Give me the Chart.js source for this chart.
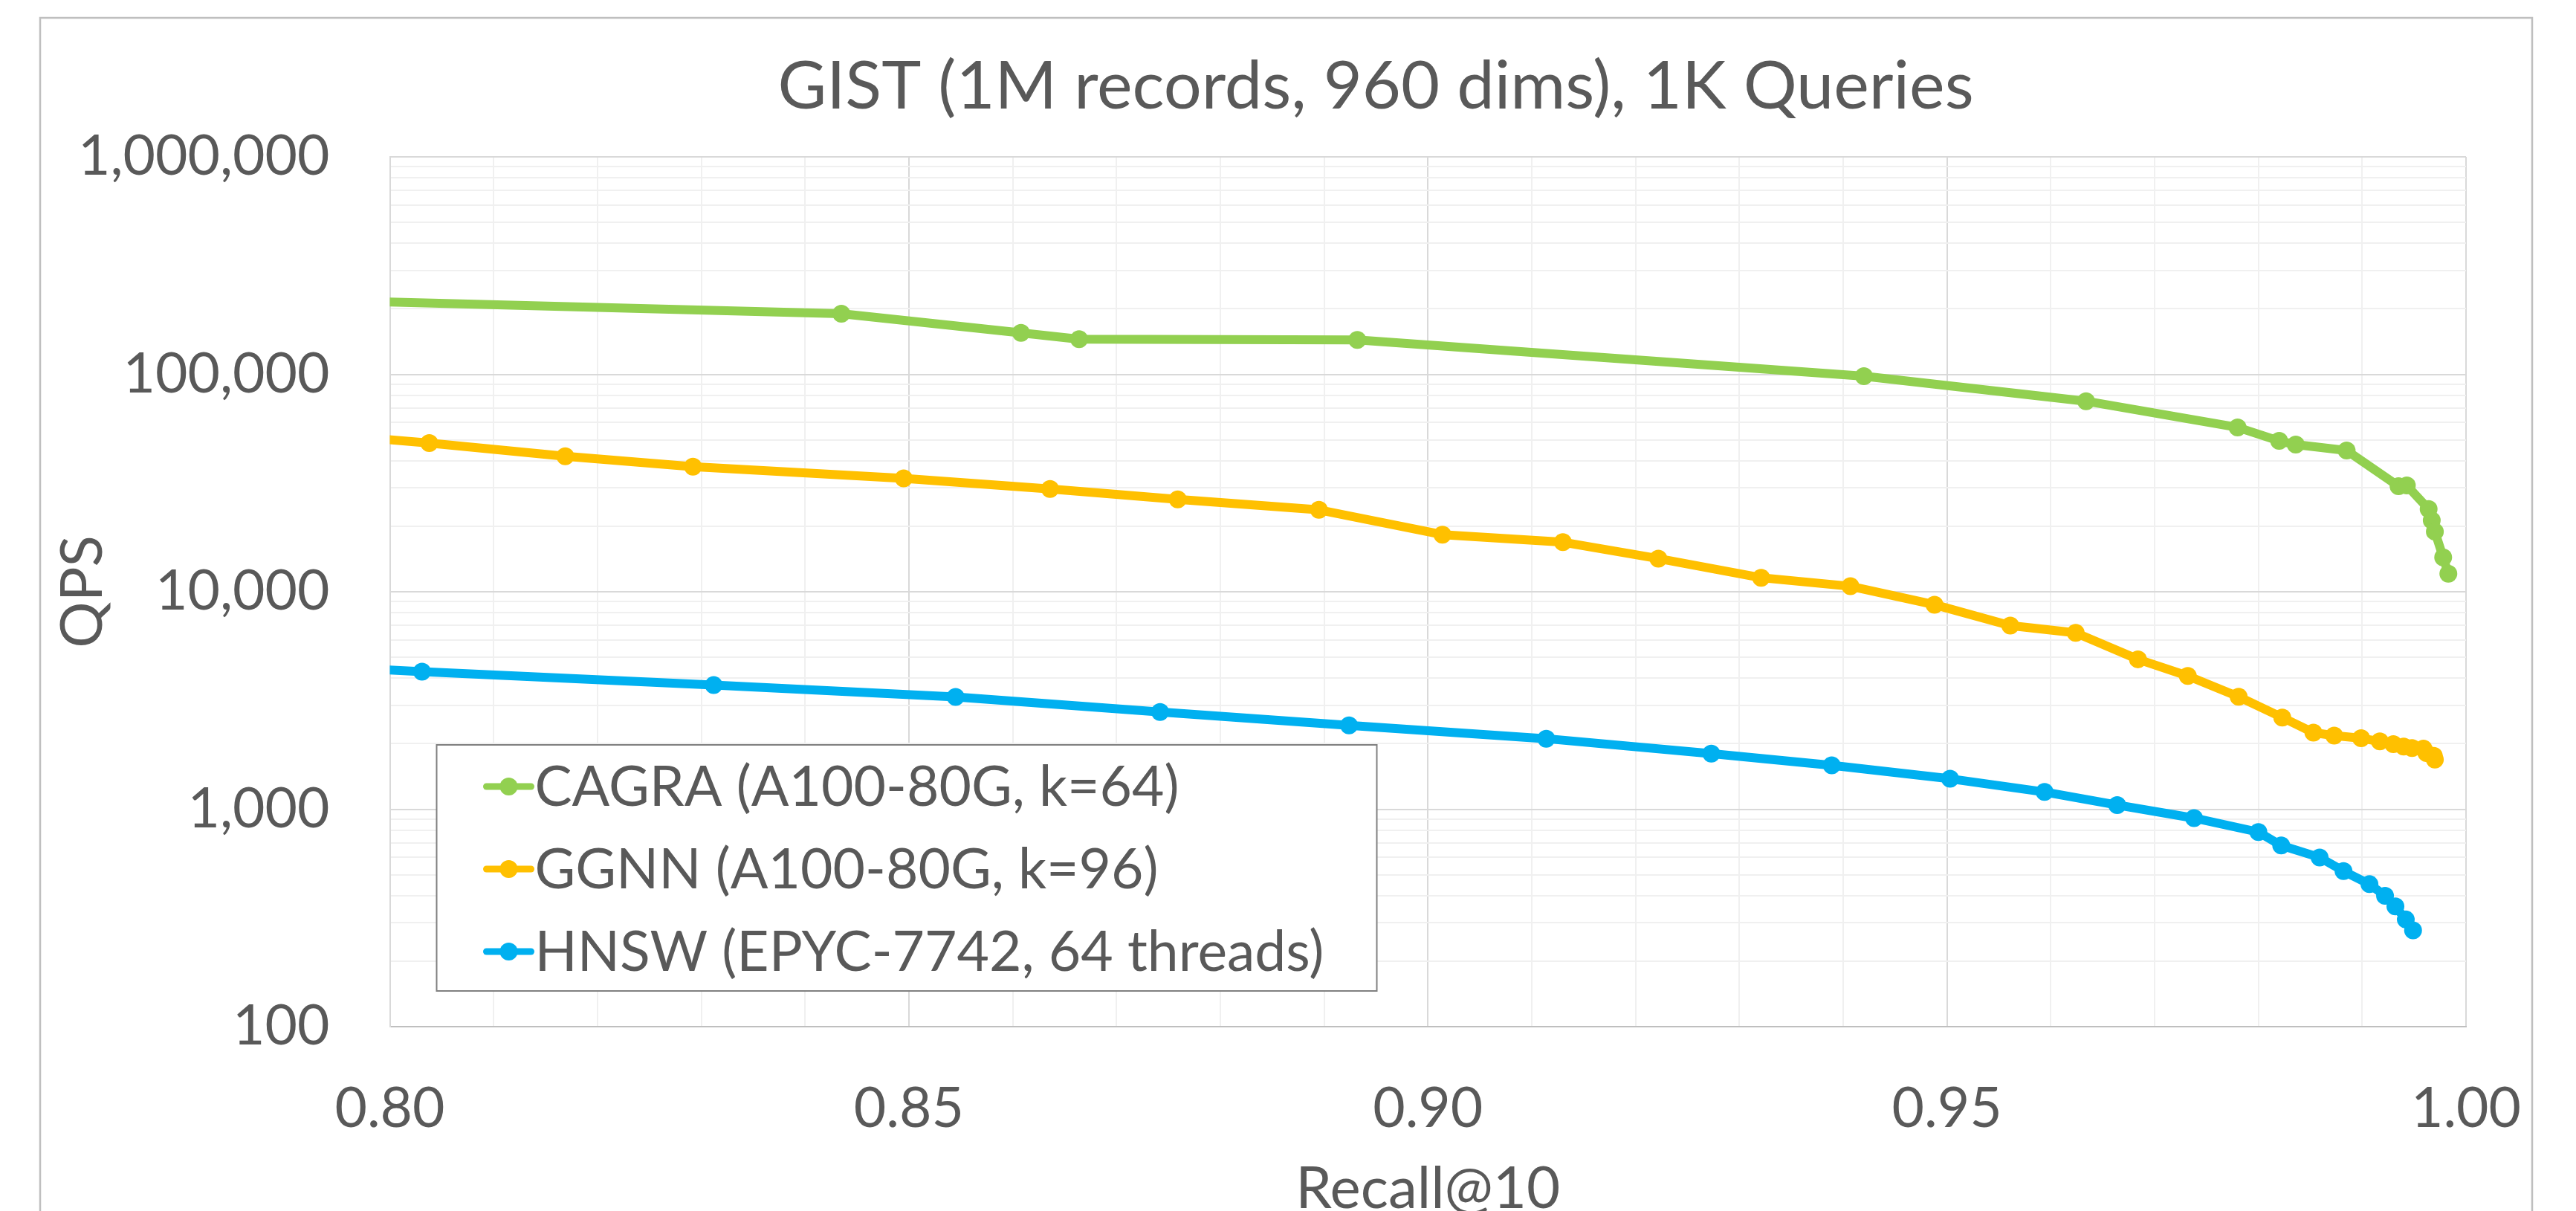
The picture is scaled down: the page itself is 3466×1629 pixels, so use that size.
<!DOCTYPE html>
<html>
<head>
<meta charset="utf-8">
<title>GIST recall vs QPS</title>
<script src="https://cdn.jsdelivr.net/npm/chart.js@4.4.1/dist/chart.umd.min.js"></script>
<style>
  html, body { margin: 0; padding: 0; background: #fff; }
  canvas { display: block; }
</style>
</head>
<body>
<canvas id="chart" width="3466" height="1629"></canvas>
<script>
const chartTitle = 'GIST (1M records, 960 dims), 1K Queries';
const xTitle = 'Recall@10';
const yTitle = 'QPS';

const seriesNames = ['CAGRA (A100-80G, k=64)', 'GGNN (A100-80G, k=96)', 'HNSW (EPYC-7742, 64 threads)'];
const seriesColors = ['#92D050', '#FFC000', '#00B0F0'];

// (first point of each series sits just left of the axis)
const cagraRecall = [0.795, 0.8435, 0.8608, 0.8664, 0.8932, 0.9420, 0.9634, 0.9780, 0.9820, 0.9836, 0.9885, 0.9935, 0.9943, 0.9964, 0.9967, 0.9970, 0.9978, 0.9983];
const cagraQps = [218000, 190000, 155000, 145000, 144000, 98000, 75200, 57000, 49400, 47500, 44600, 30600, 30800, 24000, 21300, 18900, 14400, 12100];

const ggnnRecall = [0.795, 0.8038, 0.8169, 0.8292, 0.8495, 0.8636, 0.8759, 0.8895, 0.9014, 0.9130, 0.9222, 0.9321, 0.9407, 0.9488, 0.9561, 0.9624, 0.9684, 0.9732, 0.9781, 0.9823, 0.9853, 0.9873, 0.9899, 0.9917, 0.9930, 0.9940, 0.9948, 0.9959, 0.9962, 0.9969, 0.9970];
const ggnnQps = [52300, 48300, 42000, 37600, 33200, 29700, 26600, 23800, 18300, 16900, 14200, 11600, 10600, 8720, 6990, 6470, 4890, 4100, 3290, 2640, 2250, 2180, 2120, 2050, 1990, 1940, 1910, 1900, 1810, 1760, 1690];

const hnswRecall = [0.795, 0.8031, 0.8312, 0.8545, 0.8742, 0.8924, 0.9114, 0.9273, 0.9389, 0.9503, 0.9594, 0.9664, 0.9738, 0.9800, 0.9822, 0.9859, 0.9882, 0.9907, 0.9922, 0.9932, 0.9942, 0.9949];
const hnswQps = [4500, 4290, 3720, 3280, 2800, 2430, 2110, 1800, 1590, 1380, 1200, 1045, 910, 785, 681, 600, 519, 452, 400, 357, 311, 277];

const xTicks = [0.80, 0.81, 0.82, 0.83, 0.84, 0.85, 0.86, 0.87, 0.88, 0.89, 0.90, 0.91, 0.92, 0.93, 0.94, 0.95, 0.96, 0.97, 0.98, 0.99, 1.00];
const xTickLabels = ['0.80', '0.85', '0.90', '0.95', '1.00'];
const yDecades = [100, 1000, 10000, 100000];
const yMantissas = [1, 2, 3, 4, 5, 6, 7, 8, 9];
const yTickLabels = ['100', '1,000', '10,000', '100,000', '1,000,000'];

const textColor = '#595959';
const fontFamily = 'Lato, "Open Sans", sans-serif';

const yTicks = [];
yDecades.forEach(d => yMantissas.forEach(m => yTicks.push(d * m)));
yTicks.push(1000000);

const toPoints = (xs, ys) => xs.map((x, i) => ({ x: x, y: ys[i] }));
const seriesData = [
    toPoints(cagraRecall, cagraQps),
    toPoints(ggnnRecall, ggnnQps),
    toPoints(hnswRecall, hnswQps),
];

const isMajorX = v => Math.round(v * 100) % 5 === 0;
const isMajorY = v => Math.abs(Math.log10(v) - Math.round(Math.log10(v))) < 1e-9;

// frame, title and the legend box that sits inside the plot
const excelBits = {
    id: 'excelBits',
    beforeDraw(chart) {
        const ctx = chart.ctx;
        ctx.save();
        ctx.fillStyle = '#ffffff';
        ctx.fillRect(0, 0, chart.width, chart.height);
        ctx.strokeStyle = '#bfbfbf';
        ctx.lineWidth = 2.5;
        ctx.strokeRect(54, 24, 3407 - 54, chart.height + 40);
        ctx.restore();
    },
    afterDraw(chart) {
        const ctx = chart.ctx;
        ctx.save();
        ctx.fillStyle = textColor;
        ctx.font = '90px ' + fontFamily;
        ctx.textAlign = 'center';
        ctx.textBaseline = 'middle';
        ctx.fillText(chartTitle, 1851, 117);

        const area = chart.chartArea;
        const bx = area.left + 63, by = area.top + 791, bw = 1265, bh = 331;
        ctx.fillStyle = '#ffffff';
        ctx.fillRect(bx, by, bw, bh);
        ctx.strokeStyle = '#808080';
        ctx.lineWidth = 2;
        ctx.strokeRect(bx, by, bw, bh);

        ctx.font = '75px ' + fontFamily;
        ctx.textAlign = 'left';
        ctx.textBaseline = 'alphabetic';
        chart.data.datasets.forEach((ds, i) => {
            const cy = by + 56 + i * 111;
            ctx.strokeStyle = ds.borderColor;
            ctx.lineWidth = 9;
            ctx.lineCap = 'round';
            ctx.beginPath();
            ctx.moveTo(bx + 67, cy);
            ctx.lineTo(bx + 127, cy);
            ctx.stroke();
            ctx.fillStyle = ds.borderColor;
            ctx.beginPath();
            ctx.arc(bx + 97, cy, 12, 0, Math.PI * 2);
            ctx.fill();
            ctx.fillStyle = textColor;
            ctx.fillText(ds.label, bx + 132, cy + 26);
        });
        ctx.restore();
    }
};

function draw() {
    Chart.defaults.font.family = fontFamily;
    Chart.defaults.color = textColor;

    new Chart(document.getElementById('chart').getContext('2d'), {
        type: 'line',
        data: {
            datasets: seriesData.map((pts, i) => ({
                label: seriesNames[i],
                data: pts,
                borderColor: seriesColors[i],
                backgroundColor: seriesColors[i],
                pointBackgroundColor: seriesColors[i],
                pointBorderWidth: 0,
                pointRadius: 12,
                borderWidth: 12,
                borderJoinStyle: 'round',
                borderCapStyle: 'round',
                tension: 0,
                fill: false,
                clip: 0,
            })),
        },
        options: {
            responsive: false,
            animation: false,
            layout: { padding: { left: 54, right: 148, top: 211, bottom: 0 } },
            plugins: {
                legend: { display: false },
                title: { display: false },
                tooltip: { enabled: false },
            },
            scales: {
                x: {
                    type: 'linear',
                    min: 0.8,
                    max: 1.0,
                    afterBuildTicks: s => { s.ticks = xTicks.map(v => ({ value: v })); },
                    afterFit: s => { s.height = 248; },
                    grid: {
                        color: c => isMajorX(c.tick.value) ? '#d9d9d9' : '#f0f0f0',
                        lineWidth: 2,
                        drawTicks: false,
                    },
                    border: { color: '#bfbfbf', width: 2 },
                    ticks: {
                        autoSkip: false,
                        maxRotation: 0,
                        padding: 66,
                        font: { size: 75 },
                        callback: v => {
                            const t = v.toFixed(2);
                            return xTickLabels.includes(t) ? t : '';
                        },
                    },
                    title: {
                        display: true,
                        text: xTitle,
                        font: { size: 78 },
                        padding: { top: 0, bottom: -18 },
                    },
                },
                y: {
                    type: 'logarithmic',
                    min: 100,
                    max: 1000000,
                    afterBuildTicks: s => { s.ticks = yTicks.map(v => ({ value: v })); },
                    afterFit: s => { s.width = 470.5; },
                    grid: {
                        color: c => isMajorY(c.tick.value) ? '#d9d9d9' : '#f0f0f0',
                        lineWidth: 2,
                        drawTicks: false,
                    },
                    border: { color: '#d9d9d9', width: 2 },
                    ticks: {
                        autoSkip: false,
                        padding: 81,
                        font: { size: 75 },
                        callback: v => isMajorY(v) ? yTickLabels[Math.round(Math.log10(v)) - 2] : '',
                    },
                    title: {
                        display: true,
                        text: yTitle,
                        font: { size: 78 },
                        padding: { top: 11, bottom: 0 },
                    },
                },
            },
        },
        plugins: [excelBits],
    });
}

if (document.fonts && document.fonts.load) {
    Promise.all([document.fonts.load('75px Lato'), document.fonts.load('90px Lato')]).then(draw, draw);
} else {
    draw();
}
</script>
</body>
</html>
